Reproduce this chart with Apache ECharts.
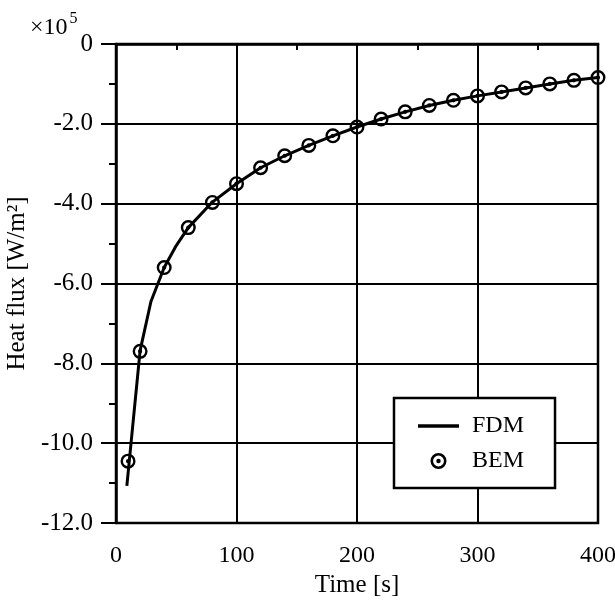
<!DOCTYPE html>
<html>
<head>
<meta charset="utf-8">
<script src="https://cdn.jsdelivr.net/npm/echarts@6/dist/echarts.min.js"></script>
<style>
  html, body { margin: 0; padding: 0; background: #fff; }
  #chart { width: 615px; height: 606px; }
</style>
</head>
<body>
<div id="chart"></div>
<script>
// values are in units of 10^5 W/m^2
const fdmTime = [9, 20, 29, 40, 50, 60, 80, 100, 120, 140, 160, 180, 200, 220, 240, 260, 280, 300, 320, 340, 360, 380, 400];
const fdmFlux = [-11.07, -7.68, -6.45, -5.6, -5.05, -4.6, -3.96, -3.5, -3.1, -2.8, -2.54, -2.3, -2.08, -1.88, -1.7, -1.54, -1.41, -1.3, -1.2, -1.1, -1.0, -0.91, -0.84];
const bemTime = [10, 20, 40, 60, 80, 100, 120, 140, 160, 180, 200, 220, 240, 260, 280, 300, 320, 340, 360, 380, 400];
const bemFlux = [-10.45, -7.7, -5.6, -4.6, -3.97, -3.5, -3.1, -2.8, -2.54, -2.3, -2.08, -1.88, -1.7, -1.54, -1.41, -1.3, -1.2, -1.1, -1.0, -0.91, -0.84];

const font = 'Liberation Serif';
const ink = '#000';
// ring with centre dot
const ringDot = 'path://M10,0A10,10 0 1,1 10,20A10,10 0 1,1 10,0Z' +
  'M10,3.2A6.8,6.8 0 1,0 10,16.8A6.8,6.8 0 1,0 10,3.2Z' +
  'M10,7.2A2.8,2.8 0 1,1 10,12.8A2.8,2.8 0 1,1 10,7.2Z';
const dash = 'path://M0,0H41V3.5H0Z';

const chart = echarts.init(document.getElementById('chart'));

const option = {
  backgroundColor: '#fff',
  animation: false,
  grid: {
    left: 116, right: 17, top: 44, bottom: 83,
    outerBoundsMode: 'none',
    show: true, borderColor: ink, borderWidth: 2.5
  },
  graphic: [{
    type: 'text', left: 30, top: 11,
    style: {
      text: '{a|×10}{b|5}',
      rich: {
        a: { fontFamily: font, fontSize: 24, fill: ink, verticalAlign: 'bottom' },
        b: { fontFamily: font, fontSize: 16, fill: ink, padding: [0, 0, 13, 2], verticalAlign: 'bottom' }
      }
    }
  }],
  xAxis: {
    type: 'value', min: 0, max: 400, interval: 100,
    name: 'Time [s]', nameLocation: 'middle', nameGap: 50,
    nameTextStyle: { fontFamily: font, fontSize: 25, color: ink },
    axisLine: { lineStyle: { color: ink, width: 2.5 } },
    axisTick: { length: 15, lineStyle: { color: ink, width: 2 } },
    minorTick: { show: true, splitNumber: 2, length: 6, lineStyle: { color: ink, width: 2 } },
    splitLine: { lineStyle: { color: ink, width: 2 } },
    axisLabel: { fontFamily: font, fontSize: 24, color: ink, margin: 21 }
  },
  yAxis: {
    type: 'value', min: -12, max: 0, interval: 2,
    name: 'Heat flux [W/m²]', nameLocation: 'middle', nameGap: 76, nameRotate: 90,
    nameTextStyle: { fontFamily: font, fontSize: 25, color: ink },
    axisLine: { lineStyle: { color: ink, width: 2.5 } },
    axisTick: { length: 15, lineStyle: { color: ink, width: 2 } },
    minorTick: { show: true, splitNumber: 2, length: 7, lineStyle: { color: ink, width: 2 } },
    splitLine: { lineStyle: { color: ink, width: 2 } },
    axisLabel: {
      fontFamily: font, fontSize: 25, color: ink, margin: 23,
      formatter: v => (v === 0 ? '0' : v.toFixed(1))
    }
  },
  legend: {
    orient: 'vertical', left: 394, top: 398,
    backgroundColor: '#fff', borderColor: ink, borderWidth: 2.5,
    padding: [15, 31, 14, 24], itemGap: 9,
    itemWidth: 41, itemHeight: 16,
    textStyle: { fontFamily: font, fontSize: 24, color: ink, lineHeight: 26, padding: [0, 0, 0, 8] },
    data: [
      { name: 'FDM', icon: dash },
      { name: 'BEM', icon: ringDot }
    ]
  },
  series: [
    {
      name: 'FDM', type: 'line', showSymbol: false, symbol: 'none',
      lineStyle: { color: ink, width: 3 }, itemStyle: { color: ink },
      data: fdmTime.map((t, i) => [t, fdmFlux[i]]), z: 3
    },
    {
      name: 'BEM', type: 'scatter', symbol: ringDot, symbolSize: 15,
      itemStyle: { color: ink, opacity: 1 },
      data: bemTime.map((t, i) => [t, bemFlux[i]]), z: 4
    }
  ]
};

chart.setOption(option);
</script>
</body>
</html>
